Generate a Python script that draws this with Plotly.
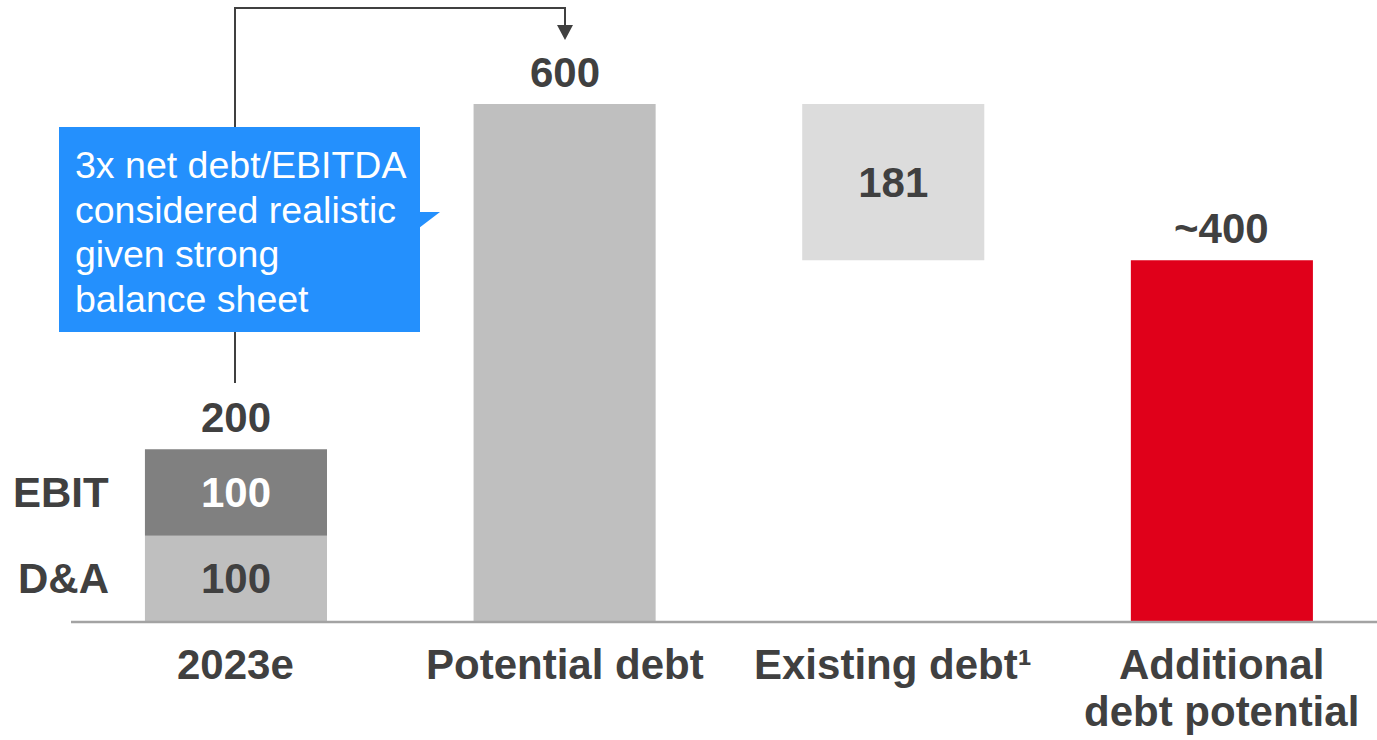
import plotly.graph_objects as go

W, H = 1377, 740
FONT = "Liberation Sans, Arial, sans-serif"
TEXT = "#404040"
SIZE = 42

# ---- data -------------------------------------------------------------
categories = ["2023e", "Potential debt", "Existing debt¹", "Additional<br>debt potential"]
da_2023 = 100
ebit_2023 = 100
ebitda_2023 = 200
potential_debt = 600
existing_debt = 181
additional_debt = 419
total_labels = ["200", "600", "181", "~400"]
segment_labels = ["D&A", "EBIT"]
callout_lines = ["3x net debt/EBITDA", "considered realistic", "given strong", "balance sheet"]

# ---- colours ----------------------------------------------------------
C_LIGHT = "#bfbfbf"
C_DARK = "#808080"
C_PALE = "#dcdcdc"
C_RED = "#e0001a"
C_BLUE = "#2490fd"

BAR_W = 0.554


def px(x):
    return x / W


def py(y):
    return 1 - y / H


fig = go.Figure()


def add_bar(x, y, base, color, text=None, text_color=TEXT):
    bar = dict(
        x=[x], y=[y], base=[base], width=BAR_W,
        marker=dict(color=color, line=dict(width=0)),
        hoverinfo="skip", showlegend=False,
    )
    if text is not None:
        bar.update(
            text=[text], textposition="inside", insidetextanchor="middle",
            textangle=0,
            textfont=dict(family=FONT, size=SIZE, color=text_color, weight="bold"),
        )
    else:
        bar.update(textposition="none")
    fig.add_trace(go.Bar(**bar))


add_bar(0, da_2023, 0, C_LIGHT, str(da_2023), TEXT)
add_bar(0, ebit_2023, da_2023, C_DARK, str(ebit_2023), "white")
add_bar(1, potential_debt, 0, C_LIGHT)
add_bar(2, existing_debt, potential_debt - existing_debt, C_PALE, total_labels[2], TEXT)
add_bar(3, additional_debt, 0, C_RED)

annotations = []

# totals above bars
for x, top, lab in [(0, ebitda_2023, total_labels[0]),
                    (1, potential_debt, total_labels[1]),
                    (3, additional_debt, total_labels[3])]:
    annotations.append(dict(
        x=x, y=top, xref="x", yref="y", text=lab, showarrow=False,
        xanchor="center", yanchor="bottom", yshift=6,
        font=dict(family=FONT, size=SIZE, color=TEXT, weight="bold"),
    ))

# segment names left of the first bar
for yv, lab in [(da_2023 / 2, segment_labels[0]), (da_2023 + ebit_2023 / 2, segment_labels[1])]:
    annotations.append(dict(
        x=-0.38, y=yv, xref="x", yref="y", text=lab, showarrow=False,
        xanchor="right", yanchor="middle",
        font=dict(family=FONT, size=SIZE, color=TEXT, weight="bold"),
    ))

# category labels under the baseline, one annotation per line
for i, cat in enumerate(categories):
    for j, line in enumerate(cat.split("<br>")):
        annotations.append(dict(
            x=i, y=py(664 + 47 * j), xref="x", yref="paper", text=line,
            showarrow=False, xanchor="center", yanchor="middle",
            font=dict(family=FONT, size=SIZE, color=TEXT, weight="bold"),
        ))

# callout text
for j, line in enumerate(callout_lines):
    annotations.append(dict(
        x=px(73), y=py(165 + 44.7 * j), xref="paper", yref="paper", text=line,
        showarrow=False, xanchor="left", yanchor="middle",
        font=dict(family=FONT, size=37.5, color="white"),
    ))

shapes = [
    # baseline
    dict(type="line", xref="paper", yref="y", x0=px(71), x1=1, y0=0, y1=0,
         line=dict(color="#a3a3a3", width=2.5)),
    # connector from 2023e to potential debt
    dict(type="path", xref="paper", yref="paper",
         path=f"M {px(235)},{py(383)} L {px(235)},{py(8)} L {px(565)},{py(8)} L {px(565)},{py(27)}",
         line=dict(color=TEXT, width=2)),
    dict(type="path", xref="paper", yref="paper",
         path=f"M {px(557)},{py(25)} L {px(573)},{py(25)} L {px(565)},{py(40)} Z",
         fillcolor=TEXT, line=dict(color=TEXT, width=0)),
    # callout box and pointer
    dict(type="rect", xref="paper", yref="paper",
         x0=px(59), x1=px(420), y0=py(332), y1=py(127),
         fillcolor=C_BLUE, line=dict(width=0)),
    dict(type="path", xref="paper", yref="paper",
         path=f"M {px(419)},{py(212)} L {px(440)},{py(212)} L {px(419)},{py(228)} Z",
         fillcolor=C_BLUE, line=dict(width=0)),
]

fig.update_layout(
    width=W, height=H,
    margin=dict(l=0, r=0, t=0, b=0),
    paper_bgcolor="white", plot_bgcolor="white",
    barmode="overlay",
    xaxis=dict(range=[-0.718, 3.472], visible=False, fixedrange=True),
    yaxis=dict(range=[-136.7, 720.5], visible=False, fixedrange=True),
    annotations=annotations,
    shapes=shapes,
    showlegend=False,
)

fig.write_html("out.html", config={"displayModeBar": False})
